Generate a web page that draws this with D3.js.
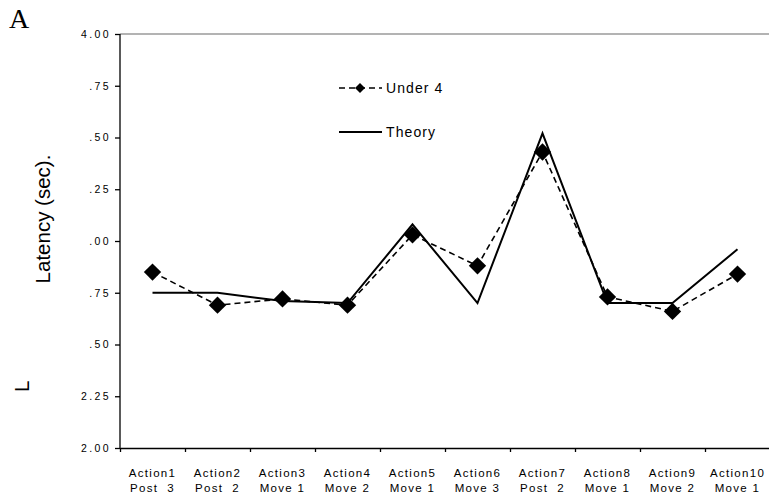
<!DOCTYPE html>
<html>
<head>
<meta charset="utf-8">
<script src="https://cdn.jsdelivr.net/npm/d3@7"></script>
<style>
  body { margin: 0; background: #fff; }
  svg { display: block; font-family: "Liberation Sans", Arial, sans-serif; }
</style>
</head>
<body>
<div id="chart"></div>
<script>
// categories (two line labels)
const actions = ["Action1", "Action2", "Action3", "Action4", "Action5",
                 "Action6", "Action7", "Action8", "Action9", "Action10"];
const moves = ["Post  3", "Post  2", "Move 1", "Move 2", "Move 1",
               "Move 3", "Post  2", "Move 1", "Move 2", "Move 1"];

// series
const under4 = [2.85, 2.69, 2.72, 2.69, 3.03, 2.88, 3.43, 2.73, 2.66, 2.84];
const theory = [2.75, 2.75, 2.71, 2.70, 3.08, 2.70, 3.52, 2.70, 2.70, 2.96];

// y ticks and their labels as printed
const yTicks = [2.00, 2.25, 2.50, 2.75, 3.00, 3.25, 3.50, 3.75, 4.00];
const yTickLabels = ["2.00", "2.25", ".50", ".75", ".00", ".25", ".50", ".75", "4.00"];

const width = 769, height = 499;
const plotLeft = 120, plotRight = 770, plotTop = 34, plotBottom = 448;

const svg = d3.select("#chart").append("svg")
  .attr("width", width)
  .attr("height", height);

const x = d3.scaleBand().domain(actions).range([plotLeft, plotRight]).padding(0);
const y = d3.scaleLinear().domain([2, 4]).range([plotBottom, plotTop]);

// top frame line (grey)
svg.append("line")
  .attr("x1", plotLeft).attr("x2", width)
  .attr("y1", y(4)).attr("y2", y(4))
  .style("stroke", "#9a9a9a")
  .style("stroke-width", 1.5);

// y axis
const yAxis = svg.append("g")
  .attr("transform", `translate(${plotLeft},0)`)
  .call(d3.axisLeft(y).tickValues(yTicks).tickSize(5)
    .tickFormat((d, i) => yTickLabels[i]));
yAxis.select(".domain").attr("d", `M0,${plotTop}V${plotBottom}`).style("stroke", "#000").style("stroke-width", 1.3);
yAxis.selectAll(".tick line").style("stroke", "#000").style("stroke-width", 1.3);
yAxis.selectAll(".tick text")
  .attr("x", -9)
  .style("font-size", "10.5px")
  .style("letter-spacing", "2.4px")
  .style("font-family", "'Liberation Sans', Arial, sans-serif")
  .style("fill", "#000");

// x axis line with ticks at band edges
const idx = d3.scaleLinear().domain([0, actions.length]).range([plotLeft, plotRight]);
const xAxis = svg.append("g")
  .attr("transform", `translate(0,${plotBottom})`)
  .call(d3.axisBottom(idx).tickValues(d3.range(actions.length + 1)).tickSize(4).tickSizeOuter(0).tickFormat(""));
xAxis.select(".domain").style("stroke", "#000").style("stroke-width", 1.3);
xAxis.selectAll(".tick line").style("stroke", "#000").style("stroke-width", 1.3);

// category labels
const cat = svg.append("g").selectAll("text")
  .data(actions)
  .enter().append("text")
  .attr("x", (d) => x(d) + x.bandwidth() / 2)
  .attr("y", 477)
  .attr("text-anchor", "middle")
  .attr("xml:space", "preserve")
  .style("font-size", "11.5px")
  .style("letter-spacing", "1.3px")
  .style("fill", "#000");
cat.append("tspan").attr("x", (d) => x(d) + x.bandwidth() / 2).text((d) => d);
cat.append("tspan")
  .attr("x", (d) => x(d) + x.bandwidth() / 2)
  .attr("dy", 15)
  .text((d, i) => moves[i]);

// lines
const line = d3.line()
  .x((d, i) => x(actions[i]) + x.bandwidth() / 2)
  .y((d) => y(d));

svg.append("path")
  .datum(theory)
  .attr("d", line)
  .style("fill", "none")
  .style("stroke", "#000")
  .style("stroke-width", 2);

svg.append("path")
  .datum(under4)
  .attr("d", line)
  .style("fill", "none")
  .style("stroke", "#000")
  .style("stroke-width", 1.6)
  .style("stroke-dasharray", "6,4");

const diamond = d3.symbol().type(d3.symbolSquare).size(150);
svg.append("g").selectAll("path")
  .data(under4)
  .enter().append("path")
  .attr("d", diamond)
  .attr("transform", (d, i) => `translate(${x(actions[i]) + x.bandwidth() / 2},${y(d)}) rotate(45)`)
  .style("fill", "#000");

// legend
const legend = svg.append("g");
legend.append("line")
  .attr("x1", 339).attr("x2", 382).attr("y1", 88).attr("y2", 88)
  .style("stroke", "#000").style("stroke-width", 1.5).style("stroke-dasharray", "6,4");
legend.append("path")
  .attr("d", d3.symbol().type(d3.symbolSquare).size(50))
  .attr("transform", "translate(360,88) rotate(45)")
  .style("fill", "#000");
legend.append("text")
  .attr("x", 386).attr("y", 93)
  .style("font-size", "14px").style("letter-spacing", "1.1px")
  .text("Under 4");
legend.append("line")
  .attr("x1", 339).attr("x2", 382).attr("y1", 132).attr("y2", 132)
  .style("stroke", "#000").style("stroke-width", 2);
legend.append("text")
  .attr("x", 386).attr("y", 137)
  .style("font-size", "14px").style("letter-spacing", "1.1px")
  .text("Theory");

// axis title and stray glyph
svg.append("text")
  .attr("transform", "translate(50,219) rotate(-90)")
  .attr("text-anchor", "middle")
  .style("font-size", "20.5px")
  .text("Latency (sec).");
svg.append("text")
  .attr("transform", "translate(29,392) rotate(-90)")
  .style("font-size", "20.5px")
  .text("L");

// panel letter
svg.append("text")
  .attr("x", 9).attr("y", 28)
  .style("font-family", "'Liberation Serif', 'Times New Roman', serif")
  .style("font-size", "28px")
  .text("A");
</script>
</body>
</html>
